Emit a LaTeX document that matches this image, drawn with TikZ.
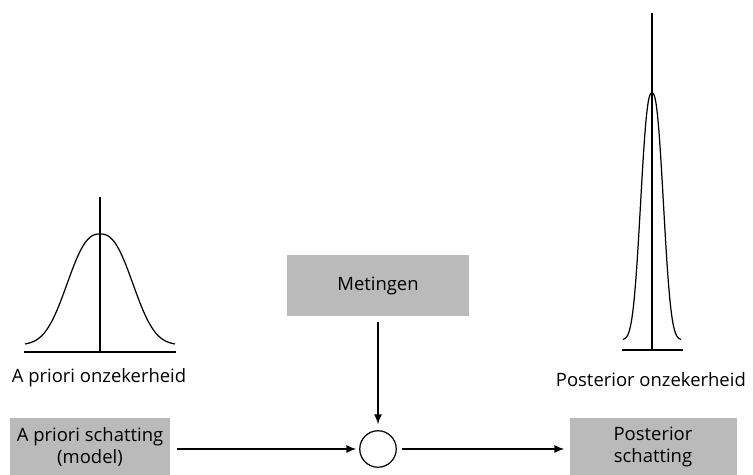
\documentclass[tikz,border=0pt]{standalone}
\usepackage{fontspec}
\setmainfont{Open Sans}
\usetikzlibrary{arrows.meta}
\usetikzlibrary{positioning}

\begin{document}
\begin{tikzpicture}[
  x=0.02cm, y=-0.02cm,
  every node/.style={font=\fontsize{10.5}{12.5}\selectfont, text=black},
  grijs/.style={fill=black!27, align=center, inner sep=0pt},
  pijl/.style={-{Latex[length=5.5pt,width=4.5pt]}, line width=0.7pt},
  lijn/.style={line width=0.7pt},
]
\useasboundingbox (0,0) rectangle (753,475);

% boxes
\node[grijs, minimum width=160*0.02cm, minimum height=57*0.02cm] (prior) at (90,447)
  {A priori schatting\\(model)};
\node[grijs, minimum width=182*0.02cm, minimum height=61*0.02cm] (meting) at (378,286)
  {Metingen};
\node[grijs, minimum width=167*0.02cm, minimum height=57*0.02cm] (post) at (653,447)
  {Posterior\\schatting};
\node[circle, draw, lijn, minimum size=36.5*0.02cm, inner sep=0pt] (som) at (378,449) {};

% arrows
\draw[pijl] ([xshift=0.14cm]prior.east |- som.west) -- ([xshift=-0.06cm]som.west);
\draw[pijl] ([yshift=-0.1cm]meting.south) -- ([yshift=0.12cm]som.north);
\draw[pijl] ([xshift=0.1cm]som.east) -- ([xshift=-0.1cm]post.west |- som.east);

% a priori onzekerheid
\draw[lijn] (24,352) -- (176,352);
\draw[lijn] (100,197) -- (100,352);
\draw[lijn] plot[domain=-75:75, samples=100, smooth] ({100+\x},{345-111*exp(-(abs(\x)/40.5)^2.5)});
\node (lprior) at (99,378) {A priori onzekerheid};

% posterior onzekerheid
\draw[lijn] (622,350) -- (683,350);
\draw[lijn] (652,13) -- (652,350);
\draw[lijn] plot[domain=-29:29, samples=100, smooth] ({652+\x},{340-247*exp(-(abs(\x)/14.1)^2.5)});
\node[anchor=east] (lpost) at (752,380) {Posterior onzekerheid};
\end{tikzpicture}
\end{document}
